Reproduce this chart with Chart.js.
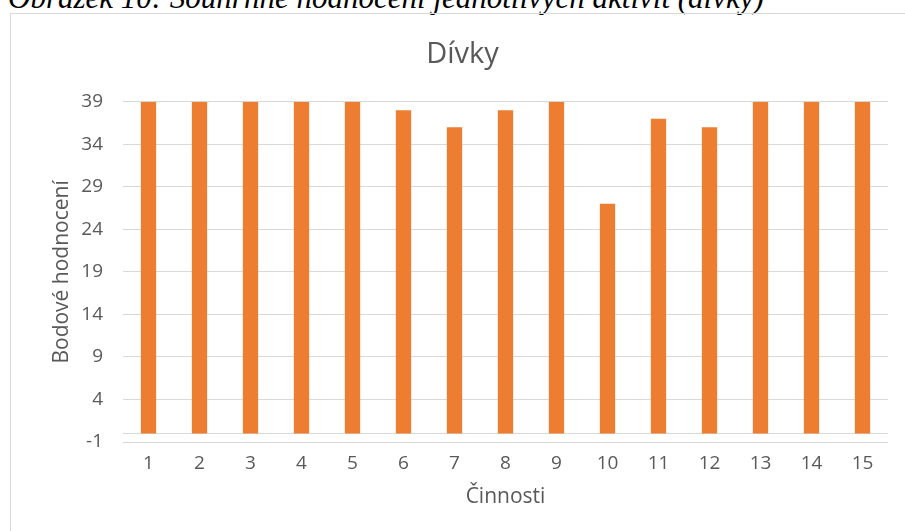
<!DOCTYPE html>
<html>
<head>
<meta charset="utf-8">
<script src="https://cdn.jsdelivr.net/npm/chart.js@4/dist/chart.umd.min.js"></script>
<style>
  html, body { margin: 0; padding: 0; width: 905px; height: 531px; overflow: hidden; background: #ffffff; }
  #caption {
    position: absolute; left: 8px; top: -18.5px;
    font-family: "Liberation Serif", "Times New Roman", serif;
    font-style: italic; font-size: 31px; line-height: 31px;
    color: #000000; white-space: nowrap;
  }
  #wrap { position: absolute; left: 10px; top: 13px; width: 905px; height: 530px; }
  #frame {
    position: absolute; left: 10px; top: 13px; width: 905px; height: 530px;
    box-sizing: border-box; border: 1px solid #d9d9d9; pointer-events: none;
  }
</style>
</head>
<body>
<div id="caption">Obrázek 10: Souhrnné hodnocení jednotlivých aktivit (dívky)</div>
<div id="wrap"><canvas id="chart" width="905" height="530"></canvas></div>
<div id="frame"></div>
<script>
// Activities (categories) and the summed score for girls
const categories = ['1', '2', '3', '4', '5', '6', '7', '8', '9', '10', '11', '12', '13', '14', '15'];
const scores = [39, 39, 39, 39, 39, 38, 36, 38, 39, 27, 37, 36, 39, 39, 39];
// Value-axis tick labels
const yTicks = [-1, 4, 9, 14, 19, 24, 29, 34, 39];

const textColor = '#595959';
const gridColor = '#d9d9d9';
const font = 'Open Sans';

// Horizontal category axis line drawn where the value axis crosses zero
const zeroLine = {
  id: 'zeroLine',
  beforeDatasetsDraw(chart) {
    const { ctx, chartArea } = chart;
    const y = Math.round(chart.scales.y.getPixelForValue(0)) + 0.5;
    ctx.save();
    ctx.strokeStyle = gridColor;
    ctx.lineWidth = 1;
    ctx.beginPath();
    ctx.moveTo(chartArea.left, y);
    ctx.lineTo(chartArea.right, y);
    ctx.stroke();
    ctx.restore();
  }
};

new Chart(document.getElementById('chart'), {
  type: 'bar',
  data: {
    labels: categories,
    datasets: [{
      label: 'Dívky',
      data: scores,
      backgroundColor: '#ED7D31',
      borderWidth: 0,
      barPercentage: 0.3,
      categoryPercentage: 1.0
    }]
  },
  options: {
    responsive: false,
    animation: false,
    layout: { padding: { left: 27, right: 27, top: 0, bottom: 0 } },
    plugins: {
      legend: { display: false },
      tooltip: { enabled: false },
      title: {
        display: true,
        text: 'Dívky',
        color: textColor,
        font: { family: font, size: 29, weight: 'normal', lineHeight: 1.2 },
        padding: { top: 24, bottom: 30 }
      }
    },
    scales: {
      x: {
        grid: { display: false, drawTicks: false },
        border: { display: false },
        ticks: { color: textColor, font: { family: font, size: 19 }, padding: 10 },
        title: {
          display: true,
          text: 'Činnosti',
          color: textColor,
          font: { family: font, size: 21, lineHeight: 1.2 },
          padding: { top: 0, bottom: 33.7 }
        },
        afterFit(scale) { scale.height = 101; }
      },
      y: {
        min: -1,
        max: 39,
        grid: { color: gridColor, lineWidth: 1, drawTicks: false },
        border: { display: false },
        ticks: { color: textColor, font: { family: font, size: 19 }, padding: 20 },
        afterBuildTicks(scale) { scale.ticks = yTicks.map(v => ({ value: v })); },
        title: {
          display: true,
          text: 'Bodové hodnocení',
          color: textColor,
          font: { family: font, size: 21, lineHeight: 1.2 },
          padding: { top: 12, bottom: 0 }
        },
        afterFit(scale) { scale.width = 86; }
      }
    }
  },
  plugins: [zeroLine]
});
</script>
</body>
</html>
